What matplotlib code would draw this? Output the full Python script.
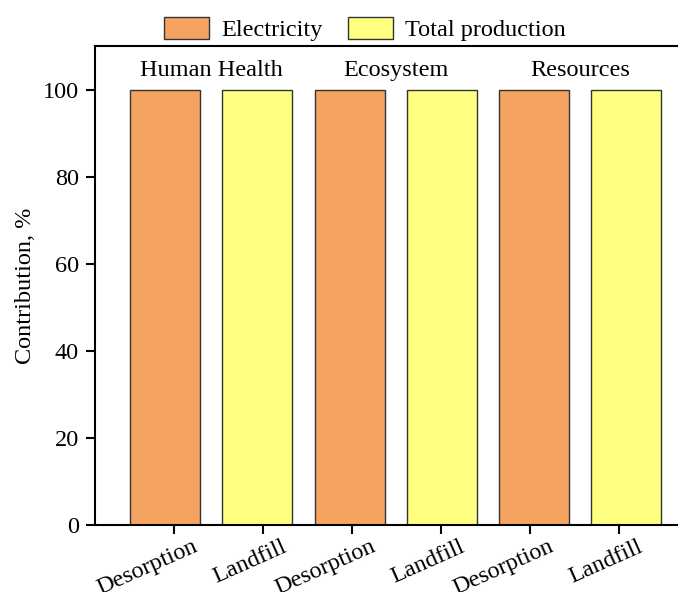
import matplotlib.pyplot as plt
import matplotlib.transforms as mtransforms
from matplotlib.patches import Patch

plt.rcParams['font.family'] = ['Liberation Serif', 'DejaVu Serif']

# ---------------------------------
# Data
# ---------------------------------
bar_labels = ["Desorption", "Landfill", "Desorption", "Landfill", "Desorption", "Landfill"]
contribution = [99.8, 100.0, 99.8, 100.0, 99.8, 100.0]
bar_colors = ["#F4A460", "#FFFF80", "#F4A460", "#FFFF80", "#F4A460", "#FFFF80"]
groups = ["Human Health", "Ecosystem", "Resources"]
legend_labels = ["Electricity", "Total production"]

x = list(range(len(bar_labels)))
fs = 17.5

# ---------------------------------
# Plot
# ---------------------------------
fig = plt.figure(figsize=(6.78, 5.92), dpi=100)
ax = fig.add_axes([0.140, 0.1132, 0.862, 0.809])

ax.bar(x, contribution, width=0.76, color=bar_colors,
       edgecolor="#333333", linewidth=1.0, zorder=2)

ax.set_xlim(-0.761, 5.576)
ax.set_ylim(0, 110)
ax.set_yticks([0, 20, 40, 60, 80, 100])

# tick marks sit a little off the bar centres in the original
tick_pos = [i * 0.965 + 0.1 for i in x]
ax.set_xticks(tick_pos)
ax.set_xticklabels(bar_labels, rotation=24, ha="right")

ax.tick_params(axis="both", direction="out", length=6.5, width=1.5, labelsize=fs)
ax.tick_params(axis="x", pad=1.5)
ax.tick_params(axis="y", pad=5)

# shift rotated labels right (done after tick_params, which resets transforms)
offset = mtransforms.ScaledTranslation(0.27, 0, fig.dpi_scale_trans)
for lbl in ax.get_xticklabels():
    lbl.set_transform(lbl.get_transform() + offset)

for side in ["left", "bottom", "top"]:
    ax.spines[side].set_linewidth(1.5)
ax.spines["right"].set_visible(False)

ax.set_ylabel("Contribution, %", fontsize=fs, labelpad=5)

# group titles above each pair of bars
for i, g in enumerate(groups):
    ax.text(2 * i + 0.5, 104.3, g, ha="center", va="center", fontsize=fs)

handles = [Patch(facecolor=bar_colors[0], edgecolor="#333333"),
           Patch(facecolor=bar_colors[1], edgecolor="#333333")]
fig.legend(handles, legend_labels, ncol=2, loc="center",
           bbox_to_anchor=(0.538, 0.951), frameon=False, fontsize=fs,
           handlelength=1.85, handleheight=1.0, handletextpad=0.5,
           columnspacing=1.03, borderpad=0.2)

plt.savefig("out.png", dpi=100)
